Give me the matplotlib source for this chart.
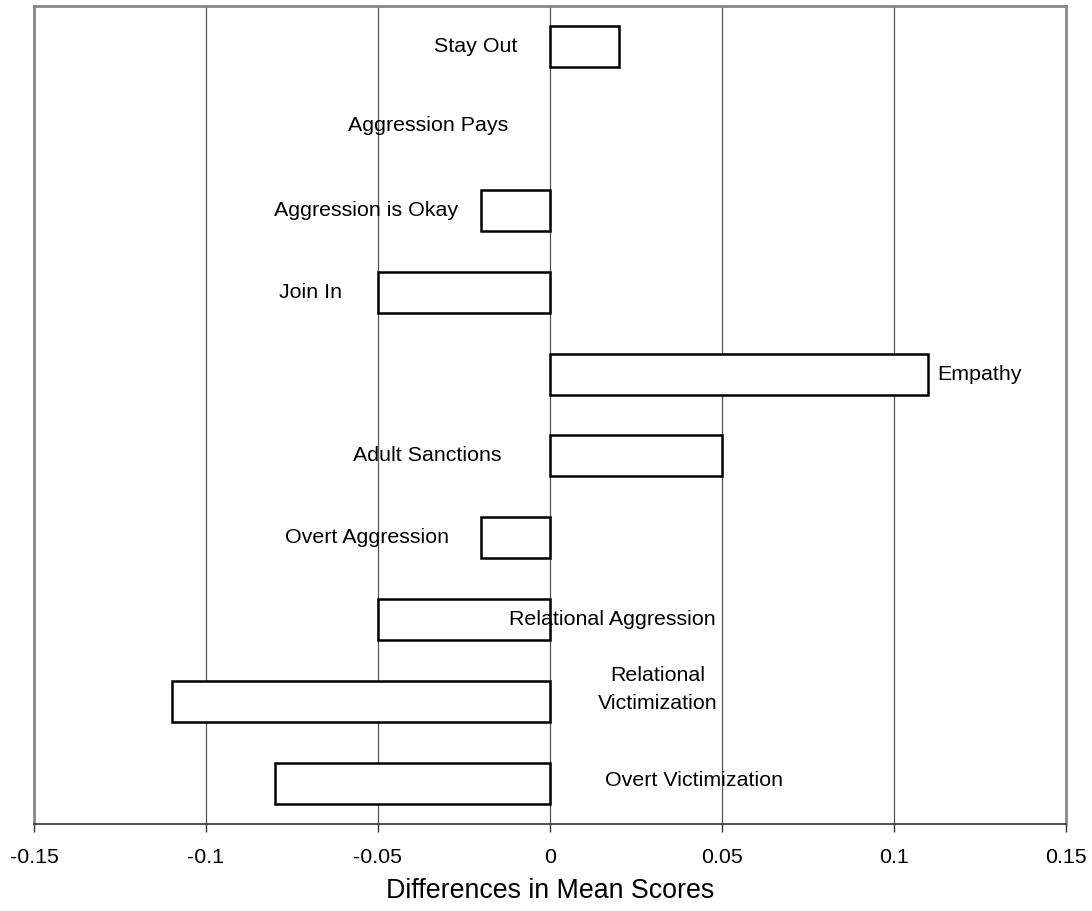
import matplotlib
matplotlib.use("Agg")
import matplotlib.pyplot as plt

plt.rcParams['font.family'] = ['Liberation Sans', 'DejaVu Sans']

categories = ["Stay Out", "Aggression Pays", "Aggression is Okay", "Join In", "Empathy",
              "Adult Sanctions", "Overt Aggression", "Relational Aggression",
              "Relational\nVictimization", "Overt Victimization"]
values = [0.02, 0.0, -0.02, -0.05, 0.11, 0.05, -0.02, -0.05, -0.11, -0.08]
label_x = [-0.0215, -0.0355, -0.0535, -0.0695, 0.1248, -0.0358, -0.0532, 0.018, 0.0314, 0.042]
label_dy = [0, -0.04, 0, 0, 0, 0, 0, 0, -0.14, -0.03]
xticks = [-0.15, -0.1, -0.05, 0, 0.05, 0.1, 0.15]
xtick_labels = ["-0.15", "-0.1", "-0.05", "0", "0.05", "0.1", "0.15"]

fig = plt.figure(figsize=(10.92, 9.11), dpi=100)
ax = fig.add_axes([0.0311, 0.0955, 0.9451, 0.898])

pos = list(range(len(categories)))
bars = ax.barh(pos, values, height=0.5, color='white', edgecolor='black', linewidth=1.8, zorder=3)
for b, v in zip(bars, values):
    if v == 0:
        b.set_linewidth(0)

for i, (c, lx, dy) in enumerate(zip(categories, label_x, label_dy)):
    ax.text(lx, i + dy, c, ha='center', va='center', fontsize=15.4, zorder=4,
            linespacing=1.6)

ax.set_xlim(-0.15, 0.15)
ax.set_ylim(9.5, -0.5)
ax.set_xticks(xticks)
ax.set_xticklabels(xtick_labels, fontsize=15.4)
ax.set_yticks([])
ax.xaxis.grid(True, color='#555555', linewidth=0.9, zorder=0)
ax.tick_params(axis='x', direction='out', length=6, width=1, color='#333333', pad=11)
for side in ['left', 'top', 'right']:
    ax.spines[side].set_color('#888888')
    ax.spines[side].set_linewidth(2)
ax.spines['bottom'].set_color('#333333')
ax.spines['bottom'].set_linewidth(1.2)
ax.set_xlabel("Differences in Mean Scores", fontsize=19.3, labelpad=8)

fig.savefig("out.png", dpi=100)
